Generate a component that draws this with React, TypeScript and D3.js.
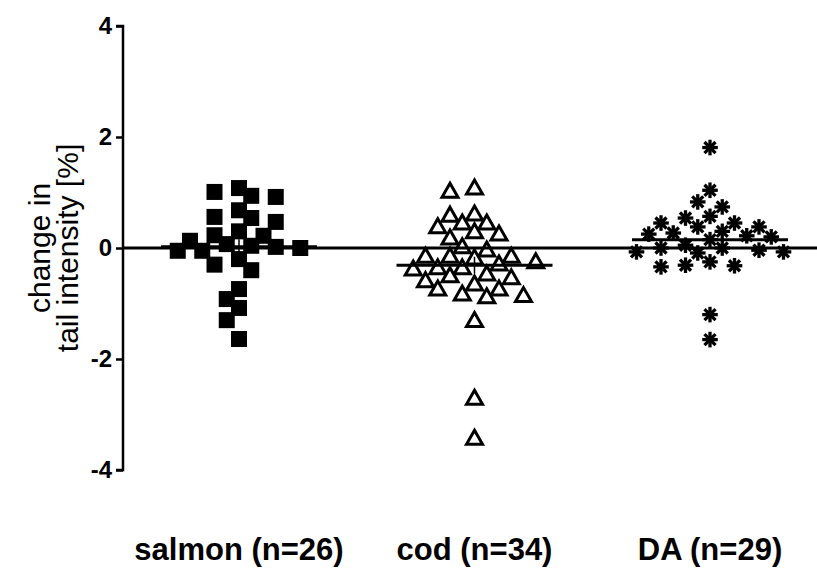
import React, { useEffect, useRef } from "react";
import * as d3 from "d3";

// Change in tail intensity (%) per diet group
const groups = ["salmon (n=26)", "cod (n=34)", "DA (n=29)"];

const salmon = [
  1.08, 1.01, 0.94, 0.92, 0.68, 0.56, 0.54, 0.47, 0.3, 0.23, 0.22, 0.13, 0.07,
  0.04, 0.02, 0.0, -0.05, -0.05, -0.2, -0.3, -0.4, -0.74, -0.92, -1.08, -1.3,
  -1.64,
];

const cod = [
  1.1, 1.04, 0.63, 0.61, 0.47, 0.47, 0.4, 0.31, 0.27, 0.2, 0.04, -0.02, -0.13,
  -0.13, -0.13, -0.16, -0.23, -0.27, -0.34, -0.34, -0.36, -0.45, -0.48, -0.52,
  -0.57, -0.63, -0.72, -0.72, -0.81, -0.84, -0.86, -1.29, -2.69, -3.41,
];

const da = [
  1.81, 1.04, 0.83, 0.74, 0.57, 0.54, 0.45, 0.45, 0.38, 0.38, 0.3, 0.27, 0.25,
  0.22, 0.2, 0.15, 0.05, 0.0, 0.0, -0.04, -0.07, -0.07, -0.09, -0.25, -0.31,
  -0.32, -0.34, -1.2, -1.65,
];

const yTicks = [-4, -2, 0, 2, 4];
const yLabelLines = ["change in", "tail intensity [%]"];

const W = 817;
const H = 571;
const FONT = "'Liberation Sans', Arial, Helvetica, sans-serif";
const STEP = 12.25;

const y = d3.scaleLinear().domain([-4, 4]).range([470, 26]);
const x = d3.scalePoint<string>().domain(groups).range([239, 710]);

// Greedy column placement: every point goes to the free column nearest the centre
function swarm(vals: number[]): number[] {
  const placed: { x: number; y: number }[] = [];
  const order = vals.map((_, i) => i).sort((a, b) => vals[b] - vals[a]);
  const out: number[] = new Array(vals.length).fill(0);
  for (const i of order) {
    const py = y(vals[i]);
    for (let k = 0; k < 60; k++) {
      const off = k === 0 ? 0 : k % 2 ? -Math.ceil(k / 2) : Math.ceil(k / 2);
      const px = off * STEP;
      const clash = placed.some((p) => {
        const dx = Math.abs(p.x - px);
        const dy = Math.abs(p.y - py);
        return (dx < STEP * 0.5 && dy < 15) || (dx < STEP * 1.5 && dy < 7.5);
      });
      if (!clash) {
        placed.push({ x: px, y: py });
        out[i] = px;
        break;
      }
    }
  }
  return out;
}

type Shape = "square" | "triangle" | "star";
const series: { name: string; values: number[]; shape: Shape }[] = [
  { name: groups[0], values: salmon, shape: "square" },
  { name: groups[1], values: cod, shape: "triangle" },
  { name: groups[2], values: da, shape: "star" },
];

function Marker({ shape, cx, cy }: { shape: Shape; cx: number; cy: number }) {
  if (shape === "square") {
    return <rect x={cx - 8} y={cy - 8} width={16} height={16} fill="#000" />;
  }
  if (shape === "triangle") {
    const p = d3.path();
    p.moveTo(cx, cy - 7);
    p.lineTo(cx + 8, cy + 7);
    p.lineTo(cx - 8, cy + 7);
    p.closePath();
    return (
      <path d={p.toString()} fill="#fff" stroke="#000" strokeWidth={3} strokeLinejoin="miter" />
    );
  }
  const r = 7.8;
  const arms = [0, 45, 90, 135].map((a) => {
    const t = (a * Math.PI) / 180;
    return (
      <line
        key={a}
        x1={cx - r * Math.cos(t)}
        y1={cy - r * Math.sin(t)}
        x2={cx + r * Math.cos(t)}
        y2={cy + r * Math.sin(t)}
        stroke="#000"
        strokeWidth={3.3}
      />
    );
  });
  return (
    <g>
      {arms}
      <circle cx={cx} cy={cy} r={3.6} fill="#000" />
    </g>
  );
}

export default function App() {
  const axisRef = useRef<SVGGElement>(null);

  useEffect(() => {
    if (!axisRef.current) return;
    const g = d3.select(axisRef.current);
    g.selectAll("*").remove();
    g.call(
      d3
        .axisLeft(y)
        .tickValues(yTicks)
        .tickSize(7)
        .tickPadding(4)
        .tickFormat((d) => String(d))
    );
    g.select(".domain").attr("stroke-width", 2.5).attr("d", `M-7,${y(4)}H0V${y(-4)}H-7`);
    g.selectAll(".tick line").attr("stroke-width", 2.5);
    g.selectAll(".tick text")
      .attr("font-family", FONT)
      .attr("font-weight", "bold")
      .attr("font-size", 24)
      .attr("fill", "#000");
  }, []);

  return (
    <svg
      width={W}
      height={H}
      style={{ position: "absolute", left: 0, top: 0, background: "#fff" }}
    >
      {series.map((s) => {
        const cx0 = x(s.name) as number;
        const offs = swarm(s.values);
        return (
          <g key={s.name}>
            {s.values.map((v, i) => (
              <Marker key={i} shape={s.shape} cx={cx0 + offs[i]} cy={y(v)} />
            ))}
          </g>
        );
      })}

      {/* zero reference line */}
      <line x1={123} x2={W} y1={y(0)} y2={y(0)} stroke="#000" strokeWidth={3} />

      {/* mean with SEM */}
      {series.map((s) => {
        const cx0 = x(s.name) as number;
        const m = d3.mean(s.values) as number;
        const sem = (d3.deviation(s.values) as number) / Math.sqrt(s.values.length);
        return (
          <g key={s.name + "-mean"} stroke="#000">
            <line x1={cx0 - 78} x2={cx0 + 78} y1={y(m)} y2={y(m)} strokeWidth={3} />
            <line x1={cx0} x2={cx0} y1={y(m + sem)} y2={y(m - sem)} strokeWidth={1.5} />
          </g>
        );
      })}

      <g ref={axisRef} transform="translate(123,0)" />

      {/* y-axis title */}
      <g transform={`translate(0,${y(0)}) rotate(-90)`}>
        {yLabelLines.map((t, i) => (
          <text
            key={t}
            x={0}
            y={50 + i * 28}
            textAnchor="middle"
            fontFamily={FONT}
            fontSize={30}
            fill="#000"
          >
            {t}
          </text>
        ))}
      </g>

      {/* group labels */}
      {groups.map((gname) => (
        <text
          key={gname}
          x={x(gname) as number}
          y={560}
          textAnchor="middle"
          fontFamily={FONT}
          fontWeight="bold"
          fontSize={31}
          fill="#000"
        >
          {gname}
        </text>
      ))}
    </svg>
  );
}
